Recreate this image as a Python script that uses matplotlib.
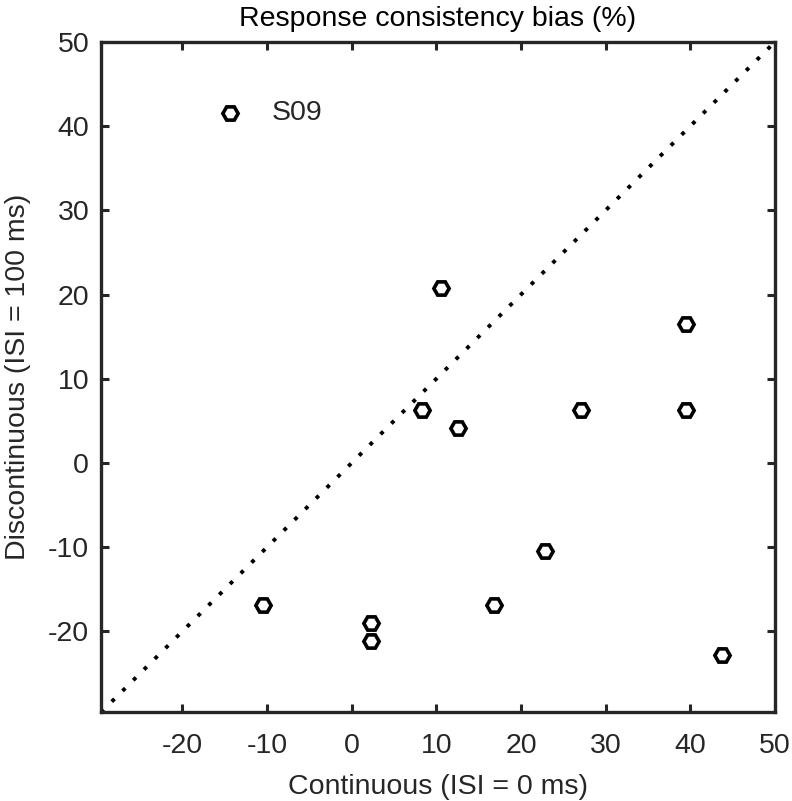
import matplotlib.pyplot as plt
import numpy as np

plt.rcParams['font.family'] = ['Liberation Sans', 'DejaVu Sans']
plt.rcParams['axes.unicode_minus'] = False

# response consistency bias (%) per subject
continuous = [-14.4, 10.5, 39.5, 8.3, 12.6, 27.1, 39.5, -10.5, 2.3, 2.3, 16.8, 22.8, 43.7]
discontinuous = [41.6, 20.8, 16.5, 6.3, 4.2, 6.3, 6.3, -16.8, -19.0, -21.1, -16.8, -10.4, -22.8]
subjects = ['S09', '', '', '', '', '', '', '', '', '', '', '', '']

lims = [-29.6, 50]
ticks = [-20, -10, 0, 10, 20, 30, 40, 50]
axcol = '#262626'
fs = 20.5

fig = plt.figure(figsize=(7.92, 8.01), dpi=100)
ax = fig.add_axes([0.1275, 0.1107, 0.851, 0.837])

ax.plot(lims, lims, color='black', lw=2.8, linestyle=(0, (1, 2.9)), dash_capstyle='butt')
ax.plot(continuous, discontinuous, linestyle='none', marker='H', markersize=11,
        markerfacecolor='white', markeredgecolor='black', markeredgewidth=2.6)

for x, y, s in zip(continuous, discontinuous, subjects):
    if s:
        ax.text(x + 5, y, s, fontsize=fs, va='center', ha='left', color=axcol)

ax.set_xlim(lims)
ax.set_ylim(lims)
ax.set_xticks(ticks)
ax.set_yticks(ticks)
ax.tick_params(direction='in', length=6, width=2.2, labelsize=fs, colors=axcol,
               top=True, right=True)
ax.tick_params(axis='x', pad=15)
ax.tick_params(axis='y', pad=8.5)
for spine in ax.spines.values():
    spine.set_linewidth(2.4)
    spine.set_color(axcol)

ax.set_title('Response consistency bias (%)', fontsize=fs, pad=11.5)
ax.set_xlabel('Continuous (ISI = 0 ms)', fontsize=fs, color=axcol, labelpad=10.5)
ax.set_ylabel('Discontinuous (ISI = 100 ms)', fontsize=fs, color=axcol, labelpad=12)

fig.savefig('out.png', dpi=100)
